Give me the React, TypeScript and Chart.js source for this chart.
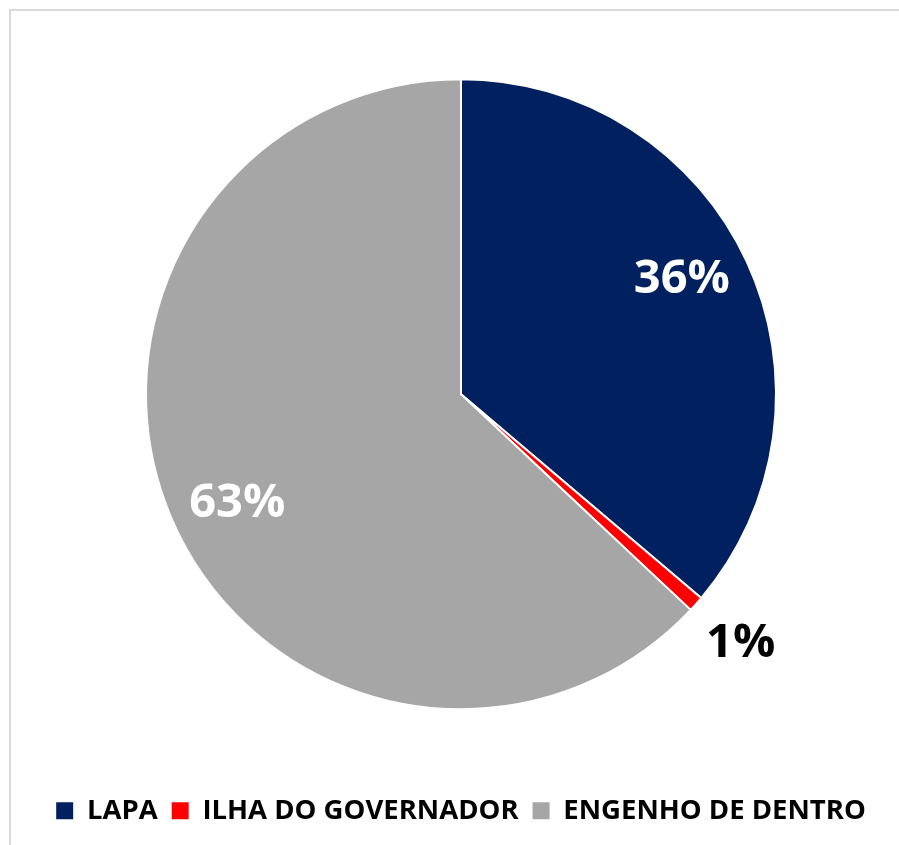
import React, { useEffect, useRef } from "react";
import { Chart, registerables } from "chart.js";

Chart.register(...registerables);

const categories = ["LAPA", "ILHA DO GOVERNADOR", "ENGENHO DE DENTRO"];
const values = [36.2, 0.8, 63.0];
const colors = ["#002060", "#FF0000", "#A6A6A6"];
const labelColors = ["#FFFFFF", "#000000", "#FFFFFF"];

const FONT = "'Open Sans', 'Noto Sans', sans-serif";

const pctLabels = {
  id: "pctLabels",
  afterDatasetsDraw(chart: any) {
    const meta = chart.getDatasetMeta(0);
    const data = chart.data.datasets[0].data as number[];
    const total = data.reduce((a, b) => a + b, 0);
    const ctx = chart.ctx;
    ctx.save();
    ctx.font = `bold 47px ${FONT}`;
    ctx.textAlign = "center";
    ctx.textBaseline = "middle";
    meta.data.forEach((arc: any, i: number) => {
      const p = arc.getProps(["x", "y", "startAngle", "endAngle", "outerRadius"], true);
      const pct = (data[i] / total) * 100;
      const outside = pct < 5;
      const mid = (p.startAngle + p.endAngle) / 2 + (outside ? 0 : -0.045);
      const r = p.outerRadius * (outside ? 1.19 : 0.79);
      const x = p.x + Math.cos(mid) * r;
      const y = p.y + Math.sin(mid) * r;
      ctx.fillStyle = labelColors[i];
      ctx.fillText(`${Math.round(pct)}%`, x, y);
    });
    ctx.restore();
  },
};

export default function App() {
  const ref = useRef<HTMLCanvasElement | null>(null);
  useEffect(() => {
    if (!ref.current) return;
    const baseGen = (Chart as any).overrides.pie.plugins.legend.labels.generateLabels;
    const chart = new Chart(ref.current, {
      type: "pie",
      data: {
        labels: categories,
        datasets: [
          {
            data: values,
            backgroundColor: colors,
            borderColor: "#FFFFFF",
            borderWidth: 2,
            radius: 315,
          } as any,
        ],
      },
      options: {
        animation: false,
        responsive: false,
        devicePixelRatio: 1,
        layout: { padding: { left: 23, right: 0, top: 5.5, bottom: 10.5 } },
        plugins: {
          tooltip: { enabled: false },
          legend: {
            position: "bottom",
            labels: {
              boxWidth: 17,
              boxHeight: 17,
              padding: 14,
              color: "#000000",
              font: { family: FONT, size: 27.5, weight: "bold", lineHeight: 1 },
              generateLabels: (c: any) =>
                baseGen(c).map((l: any) => ({ ...l, lineWidth: 0, strokeStyle: l.fillStyle })),
            },
          },
        },
      },
      plugins: [pctLabels],
    });
    return () => chart.destroy();
  }, []);

  return (
    <div
      style={{
        position: "fixed",
        left: 0,
        top: 0,
        width: 899,
        height: 845,
        overflow: "hidden",
        background: "#FFFFFF",
      }}
    >
      <div
        style={{
          position: "absolute",
          left: 9,
          top: 9,
          width: 1000,
          height: 1000,
          border: "2px solid #D9D9D9",
        }}
      />
      <canvas
        ref={ref}
        width={899}
        height={845}
        style={{ position: "absolute", left: 0, top: 0, display: "block" }}
      />
    </div>
  );
}
